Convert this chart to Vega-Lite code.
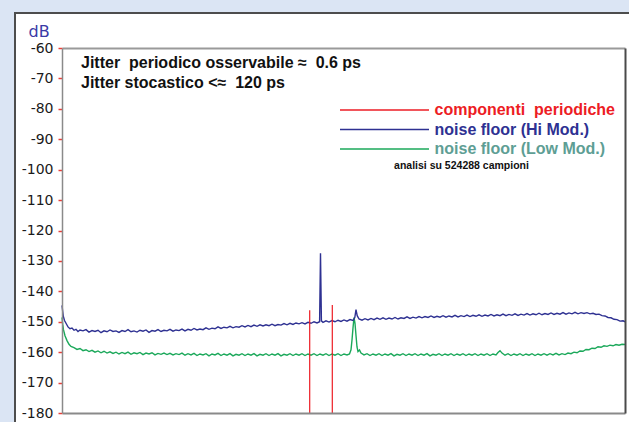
{
"$schema": "https://vega.github.io/schema/vega-lite/v6.json",
"width": 563,
"height": 365,
"autosize": {"type": "none"},
"padding": {"left": 62, "top": 48, "right": 4, "bottom": 9},
"background": "#dbe5f4",
"config": {"view": {"stroke": null}, "axis": {"grid": false}},
"datasets": {
"hi": [{"f":0,"dB":-144.6},{"f":0.6,"dB":-146.3},{"f":1.3,"dB":-148.2},{"f":2.5,"dB":-149.6},{"f":4.7,"dB":-150.9},{"f":6,"dB":-151.7},{"f":8,"dB":-152.3},{"f":10,"dB":-152.1},{"f":12,"dB":-152.8},{"f":14,"dB":-152.5},{"f":16,"dB":-153.2},{"f":18,"dB":-152.7},{"f":21,"dB":-153.0},{"f":24,"dB":-152.6},{"f":27,"dB":-153.4},{"f":30,"dB":-152.9},{"f":33,"dB":-153.2},{"f":36,"dB":-152.8},{"f":39,"dB":-153.6},{"f":42,"dB":-153.0},{"f":45,"dB":-153.3},{"f":48,"dB":-152.7},{"f":51,"dB":-153.2},{"f":54,"dB":-153.0},{"f":57,"dB":-153.5},{"f":60,"dB":-152.9},{"f":63,"dB":-153.2},{"f":66,"dB":-152.6},{"f":69,"dB":-153.3},{"f":72,"dB":-153.0},{"f":75,"dB":-153.4},{"f":78,"dB":-152.8},{"f":81,"dB":-153.1},{"f":84,"dB":-152.7},{"f":87,"dB":-153.5},{"f":90,"dB":-152.9},{"f":93,"dB":-153.1},{"f":96,"dB":-152.6},{"f":99,"dB":-153.2},{"f":102,"dB":-152.8},{"f":105,"dB":-153.0},{"f":108,"dB":-152.5},{"f":111,"dB":-153.1},{"f":114,"dB":-152.7},{"f":117,"dB":-152.9},{"f":120,"dB":-152.4},{"f":123,"dB":-153.0},{"f":126,"dB":-152.5},{"f":129,"dB":-152.8},{"f":132,"dB":-152.2},{"f":135,"dB":-152.7},{"f":138,"dB":-152.4},{"f":141,"dB":-152.6},{"f":144,"dB":-152.0},{"f":147,"dB":-152.5},{"f":150,"dB":-152.1},{"f":153,"dB":-152.3},{"f":156,"dB":-151.7},{"f":159,"dB":-152.2},{"f":162,"dB":-151.8},{"f":165,"dB":-152.0},{"f":168,"dB":-151.5},{"f":171,"dB":-152.0},{"f":174,"dB":-151.6},{"f":177,"dB":-151.8},{"f":180,"dB":-151.3},{"f":183,"dB":-151.7},{"f":186,"dB":-151.2},{"f":189,"dB":-151.6},{"f":192,"dB":-151.1},{"f":195,"dB":-151.5},{"f":198,"dB":-151.0},{"f":201,"dB":-151.4},{"f":204,"dB":-151.0},{"f":207,"dB":-151.3},{"f":210,"dB":-150.8},{"f":213,"dB":-151.3},{"f":216,"dB":-150.9},{"f":219,"dB":-151.1},{"f":222,"dB":-150.6},{"f":225,"dB":-151.0},{"f":228,"dB":-150.5},{"f":231,"dB":-150.9},{"f":234,"dB":-150.4},{"f":237,"dB":-150.7},{"f":240,"dB":-150.3},{"f":243,"dB":-150.7},{"f":246,"dB":-150.2},{"f":249,"dB":-150.5},{"f":252,"dB":-150.0},{"f":255,"dB":-150.4},{"f":257.6,"dB":-150.0},{"f":258.5,"dB":-127.5},{"f":259.4,"dB":-149.7},{"f":261,"dB":-150.2},{"f":264,"dB":-149.7},{"f":267,"dB":-150.1},{"f":270,"dB":-149.6},{"f":273,"dB":-150.0},{"f":276,"dB":-149.5},{"f":279,"dB":-149.9},{"f":282,"dB":-149.4},{"f":285,"dB":-149.8},{"f":288,"dB":-149.3},{"f":291,"dB":-149.6},{"f":292.8,"dB":-148.6},{"f":294,"dB":-146.0},{"f":295.2,"dB":-148.0},{"f":297,"dB":-149.1},{"f":300,"dB":-149.5},{"f":303,"dB":-149.0},{"f":306,"dB":-149.4},{"f":309,"dB":-148.9},{"f":312,"dB":-149.3},{"f":315,"dB":-148.8},{"f":318,"dB":-149.2},{"f":321,"dB":-148.7},{"f":324,"dB":-149.2},{"f":327,"dB":-148.8},{"f":330,"dB":-149.1},{"f":333,"dB":-148.6},{"f":336,"dB":-149.1},{"f":339,"dB":-148.7},{"f":342,"dB":-148.9},{"f":345,"dB":-148.4},{"f":348,"dB":-148.9},{"f":351,"dB":-148.5},{"f":354,"dB":-148.8},{"f":357,"dB":-148.3},{"f":360,"dB":-148.7},{"f":363,"dB":-148.3},{"f":366,"dB":-148.6},{"f":369,"dB":-148.1},{"f":372,"dB":-148.6},{"f":375,"dB":-148.2},{"f":378,"dB":-148.5},{"f":381,"dB":-148.0},{"f":384,"dB":-148.5},{"f":387,"dB":-148.1},{"f":390,"dB":-148.4},{"f":393,"dB":-147.9},{"f":396,"dB":-148.4},{"f":399,"dB":-148.0},{"f":402,"dB":-148.3},{"f":405,"dB":-147.8},{"f":408,"dB":-148.3},{"f":411,"dB":-147.9},{"f":414,"dB":-148.2},{"f":417,"dB":-147.7},{"f":420,"dB":-148.2},{"f":423,"dB":-147.8},{"f":426,"dB":-148.1},{"f":429,"dB":-147.6},{"f":432,"dB":-148.1},{"f":435,"dB":-147.7},{"f":438,"dB":-148.0},{"f":441,"dB":-147.5},{"f":444,"dB":-148.0},{"f":447,"dB":-147.6},{"f":450,"dB":-147.9},{"f":453,"dB":-147.4},{"f":456,"dB":-147.9},{"f":459,"dB":-147.5},{"f":462,"dB":-147.8},{"f":465,"dB":-147.3},{"f":468,"dB":-147.8},{"f":471,"dB":-147.4},{"f":474,"dB":-147.7},{"f":477,"dB":-147.2},{"f":480,"dB":-147.7},{"f":483,"dB":-147.3},{"f":486,"dB":-147.6},{"f":489,"dB":-147.1},{"f":492,"dB":-147.6},{"f":495,"dB":-147.2},{"f":498,"dB":-147.5},{"f":501,"dB":-147.0},{"f":504,"dB":-147.5},{"f":507,"dB":-147.1},{"f":510,"dB":-147.4},{"f":513,"dB":-146.9},{"f":516,"dB":-147.4},{"f":519,"dB":-147.0},{"f":522,"dB":-147.3},{"f":525,"dB":-147.0},{"f":528,"dB":-147.4},{"f":531,"dB":-147.2},{"f":534,"dB":-147.6},{"f":537,"dB":-147.5},{"f":540,"dB":-148.0},{"f":543,"dB":-148.1},{"f":546,"dB":-148.6},{"f":549,"dB":-148.7},{"f":552,"dB":-149.2},{"f":555,"dB":-149.3},{"f":558,"dB":-149.8},{"f":561,"dB":-149.7},{"f":563,"dB":-150.0}],
"low": [{"f":0,"dB":-148.6},{"f":0.7,"dB":-150.8},{"f":1.5,"dB":-152.7},{"f":3,"dB":-154.6},{"f":5,"dB":-156.2},{"f":7,"dB":-157.4},{"f":9,"dB":-158.1},{"f":12,"dB":-158.5},{"f":15,"dB":-159.1},{"f":18,"dB":-158.8},{"f":21,"dB":-159.5},{"f":24,"dB":-159.2},{"f":27,"dB":-159.8},{"f":30,"dB":-159.4},{"f":33,"dB":-160.0},{"f":36,"dB":-159.6},{"f":39,"dB":-160.2},{"f":42,"dB":-159.7},{"f":45,"dB":-160.3},{"f":48,"dB":-159.9},{"f":51,"dB":-160.4},{"f":54,"dB":-160.0},{"f":57,"dB":-160.6},{"f":60,"dB":-160.1},{"f":63,"dB":-160.5},{"f":66,"dB":-160.0},{"f":69,"dB":-160.7},{"f":72,"dB":-160.2},{"f":75,"dB":-160.5},{"f":78,"dB":-160.1},{"f":81,"dB":-160.8},{"f":84,"dB":-160.3},{"f":87,"dB":-160.6},{"f":90,"dB":-160.2},{"f":93,"dB":-160.9},{"f":96,"dB":-160.4},{"f":99,"dB":-160.7},{"f":102,"dB":-160.3},{"f":105,"dB":-160.8},{"f":108,"dB":-160.4},{"f":111,"dB":-160.9},{"f":114,"dB":-160.5},{"f":117,"dB":-160.8},{"f":120,"dB":-160.3},{"f":123,"dB":-161.0},{"f":126,"dB":-160.5},{"f":129,"dB":-160.9},{"f":132,"dB":-160.4},{"f":135,"dB":-161.1},{"f":138,"dB":-160.6},{"f":141,"dB":-160.9},{"f":144,"dB":-160.5},{"f":147,"dB":-161.2},{"f":150,"dB":-160.6},{"f":153,"dB":-160.9},{"f":156,"dB":-160.4},{"f":159,"dB":-161.1},{"f":162,"dB":-160.6},{"f":165,"dB":-161.0},{"f":168,"dB":-160.5},{"f":171,"dB":-161.2},{"f":174,"dB":-160.7},{"f":177,"dB":-161.0},{"f":180,"dB":-160.5},{"f":183,"dB":-161.1},{"f":186,"dB":-160.6},{"f":189,"dB":-161.0},{"f":192,"dB":-160.5},{"f":195,"dB":-161.2},{"f":198,"dB":-160.7},{"f":201,"dB":-161.0},{"f":204,"dB":-160.5},{"f":207,"dB":-161.1},{"f":210,"dB":-160.6},{"f":213,"dB":-161.0},{"f":216,"dB":-160.5},{"f":219,"dB":-161.2},{"f":222,"dB":-160.7},{"f":225,"dB":-161.0},{"f":228,"dB":-160.5},{"f":231,"dB":-161.1},{"f":234,"dB":-160.6},{"f":237,"dB":-161.0},{"f":240,"dB":-160.5},{"f":243,"dB":-161.1},{"f":246,"dB":-160.6},{"f":249,"dB":-161.0},{"f":252,"dB":-160.5},{"f":255,"dB":-161.1},{"f":258,"dB":-160.6},{"f":261,"dB":-161.0},{"f":264,"dB":-160.5},{"f":267,"dB":-161.1},{"f":270,"dB":-160.6},{"f":273,"dB":-161.0},{"f":276,"dB":-160.5},{"f":279,"dB":-161.1},{"f":282,"dB":-160.6},{"f":285,"dB":-160.9},{"f":287.5,"dB":-160.6},{"f":289,"dB":-159.2},{"f":290,"dB":-156.0},{"f":291,"dB":-152.0},{"f":292,"dB":-148.6},{"f":293,"dB":-150.5},{"f":294,"dB":-154.5},{"f":295,"dB":-158.3},{"f":296,"dB":-159.8},{"f":297.5,"dB":-159.3},{"f":299,"dB":-160.3},{"f":302,"dB":-160.9},{"f":305,"dB":-160.5},{"f":308,"dB":-161.1},{"f":311,"dB":-160.6},{"f":314,"dB":-161.0},{"f":317,"dB":-160.5},{"f":320,"dB":-161.1},{"f":323,"dB":-160.6},{"f":326,"dB":-161.0},{"f":329,"dB":-160.5},{"f":332,"dB":-161.2},{"f":335,"dB":-160.7},{"f":338,"dB":-161.0},{"f":341,"dB":-160.5},{"f":344,"dB":-161.1},{"f":347,"dB":-160.6},{"f":350,"dB":-161.0},{"f":353,"dB":-160.5},{"f":356,"dB":-161.1},{"f":359,"dB":-160.6},{"f":362,"dB":-161.0},{"f":365,"dB":-160.5},{"f":368,"dB":-161.2},{"f":371,"dB":-160.7},{"f":374,"dB":-161.0},{"f":377,"dB":-160.5},{"f":380,"dB":-161.1},{"f":383,"dB":-160.6},{"f":386,"dB":-161.0},{"f":389,"dB":-160.5},{"f":392,"dB":-161.1},{"f":395,"dB":-160.6},{"f":398,"dB":-161.0},{"f":401,"dB":-160.5},{"f":404,"dB":-161.1},{"f":407,"dB":-160.6},{"f":410,"dB":-161.0},{"f":413,"dB":-160.5},{"f":416,"dB":-161.1},{"f":419,"dB":-160.6},{"f":422,"dB":-161.0},{"f":425,"dB":-160.5},{"f":428,"dB":-161.1},{"f":431,"dB":-160.6},{"f":434,"dB":-160.9},{"f":436,"dB":-160.1},{"f":438,"dB":-159.5},{"f":440,"dB":-160.3},{"f":443,"dB":-161.0},{"f":446,"dB":-160.5},{"f":449,"dB":-161.1},{"f":452,"dB":-160.6},{"f":455,"dB":-161.0},{"f":458,"dB":-160.5},{"f":461,"dB":-161.1},{"f":464,"dB":-160.6},{"f":467,"dB":-161.0},{"f":470,"dB":-160.5},{"f":473,"dB":-161.1},{"f":476,"dB":-160.6},{"f":479,"dB":-161.0},{"f":482,"dB":-160.5},{"f":485,"dB":-161.0},{"f":488,"dB":-160.5},{"f":491,"dB":-160.9},{"f":494,"dB":-160.4},{"f":497,"dB":-160.9},{"f":500,"dB":-160.5},{"f":503,"dB":-160.8},{"f":506,"dB":-160.3},{"f":509,"dB":-160.5},{"f":512,"dB":-160.0},{"f":515,"dB":-160.2},{"f":518,"dB":-159.6},{"f":521,"dB":-159.7},{"f":524,"dB":-159.1},{"f":527,"dB":-159.2},{"f":530,"dB":-158.7},{"f":533,"dB":-158.8},{"f":536,"dB":-158.2},{"f":539,"dB":-158.4},{"f":542,"dB":-157.9},{"f":545,"dB":-158.1},{"f":548,"dB":-157.7},{"f":551,"dB":-157.9},{"f":554,"dB":-157.5},{"f":557,"dB":-157.7},{"f":560,"dB":-157.4},{"f":563,"dB":-157.5}],
"periodic": [{"f":247.7,"dB":-146.2},{"f":270.3,"dB":-144.5}],
"panel": [{"part":"pannello"}],
"notes": [{"label":"Jitter\u00a0 periodico osservabile ≈\u00a0 0.6 ps\nJitter stocastico <≈\u00a0 120 ps"}],
"info": [{"label":"analisi su 524288 campioni"}]
},
"layer": [
{
"data": {"name": "panel"},
"mark": {"type": "rect", "fill": "#ffffff", "stroke": "#4d4d4d", "strokeWidth": 2},
"encoding": {
"x": {"datum": -47, "type": "quantitative", "scale": {"domain": [0, 563], "nice": false, "zero": false}, "axis": null},
"x2": {"datum": 700},
"y": {"datum": -48.5, "type": "quantitative", "scale": {"domain": [-180, -60], "nice": false, "zero": false}, "axis": null},
"y2": {"datum": -220}
}
},
{
"data": {"name": "low"},
"mark": {"type": "line", "strokeWidth": 1.4},
"encoding": {
"x": {"field": "f", "type": "quantitative", "axis": {"orient": "top", "ticks": false, "labels": false, "domainColor": "#9a9a9a", "domainWidth": 2, "title": null, "grid": false, "zindex": 1}},
"y": {"field": "dB", "type": "quantitative", "axis": {"orient": "right", "ticks": false, "labels": false, "domainColor": "#4a4a4a", "domainWidth": 2, "title": null, "grid": false, "zindex": 1}},
"color": {
"datum": "noise floor (Low Mod.)",
"type": "nominal",
"scale": {"domain": ["componenti periodiche", "noise floor (Hi Mod.)", "noise floor (Low Mod.)"], "range": ["#ed1c24", "#2e3192", "#1ba85a"]},
"legend": {
"orient": "none", "legendX": 278, "legendY": 54, "title": null, "padding": 0,
"symbolType": "M-10,0H10", "symbolSize": 79.2, "symbolStrokeWidth": 1.6, "symbolOffset": 36.5, "symbolFillColor": "transparent",
"labelOffset": 42, "labelFont": "Liberation Sans", "labelFontSize": 16, "labelFontWeight": "bold", "labelLimit": 400, "rowPadding": 3.5,
"labelExpr": "datum.label === 'componenti periodiche' ? 'componenti\u00a0 periodiche' : datum.label",
"encode": {
"labels": {"update": {"fill": {"signal": "datum.value === 'componenti periodiche' ? '#ed1c24' : datum.value === 'noise floor (Hi Mod.)' ? '#2e3192' : '#5e9e94'"}}},
"symbols": {"update": {"stroke": {"signal": "datum.value === 'componenti periodiche' ? '#ed1c24' : datum.value === 'noise floor (Hi Mod.)' ? '#2e3192' : '#3f9a8a'"}}}
}
}
}
}
},
{
"data": {"name": "hi"},
"mark": {"type": "line", "strokeWidth": 1.4},
"encoding": {
"x": {"field": "f", "type": "quantitative", "axis": {"orient": "bottom", "ticks": false, "labels": false, "domainColor": "#8a8a8a", "domainWidth": 2, "title": null, "grid": false, "zindex": 1}},
"y": {"field": "dB", "type": "quantitative", "axis": {"orient": "left", "values": [-60, -70, -80, -90, -100, -110, -120, -130, -140, -150, -160, -170, -180], "tickColor": "#e8403a", "tickSize": 4, "tickWidth": 1.5, "domainColor": "#8a8a8a", "domainWidth": 1.5, "labelFont": "DejaVu Sans", "labelFontSize": 14, "labelColor": "#1a1a1a", "labelPadding": 5, "labelExpr": "toString(datum.value)", "labelFlush": false, "labelOverlap": false, "labelBound": false, "title": "dB", "titleAngle": 0, "titleX": -34, "titleY": -12, "titleAlign": "left", "titleBaseline": "alphabetic", "titleColor": "#3a3aa6", "titleFont": "DejaVu Sans", "titleFontSize": 16, "titleFontWeight": "normal", "grid": false, "zindex": 1}},
"color": {"datum": "noise floor (Hi Mod.)", "type": "nominal"}
}
},
{
"data": {"name": "periodic"},
"mark": {"type": "rule", "strokeWidth": 1.2},
"encoding": {
"x": {"field": "f", "type": "quantitative", "axis": null},
"y": {"field": "dB", "type": "quantitative", "axis": null},
"y2": {"datum": -180},
"color": {"datum": "componenti periodiche", "type": "nominal"}
}
},
{
"data": {"name": "notes"},
"mark": {"type": "text", "align": "left", "baseline": "alphabetic", "lineBreak": "\n", "lineHeight": 20, "font": "Liberation Sans", "fontSize": 16, "fontWeight": "bold", "color": "#111111"},
"encoding": {
"text": {"field": "label"},
"x": {"datum": 19, "type": "quantitative", "axis": null},
"y": {"datum": -66.7, "type": "quantitative", "axis": null}
}
},
{
"data": {"name": "info"},
"mark": {"type": "text", "align": "center", "baseline": "middle", "font": "Liberation Sans", "fontSize": 10.5, "fontWeight": "bold", "color": "#111111"},
"encoding": {
"text": {"field": "label"},
"x": {"datum": 399.5, "type": "quantitative", "axis": null},
"y": {"datum": -98.8, "type": "quantitative", "axis": null}
}
}
]
}
